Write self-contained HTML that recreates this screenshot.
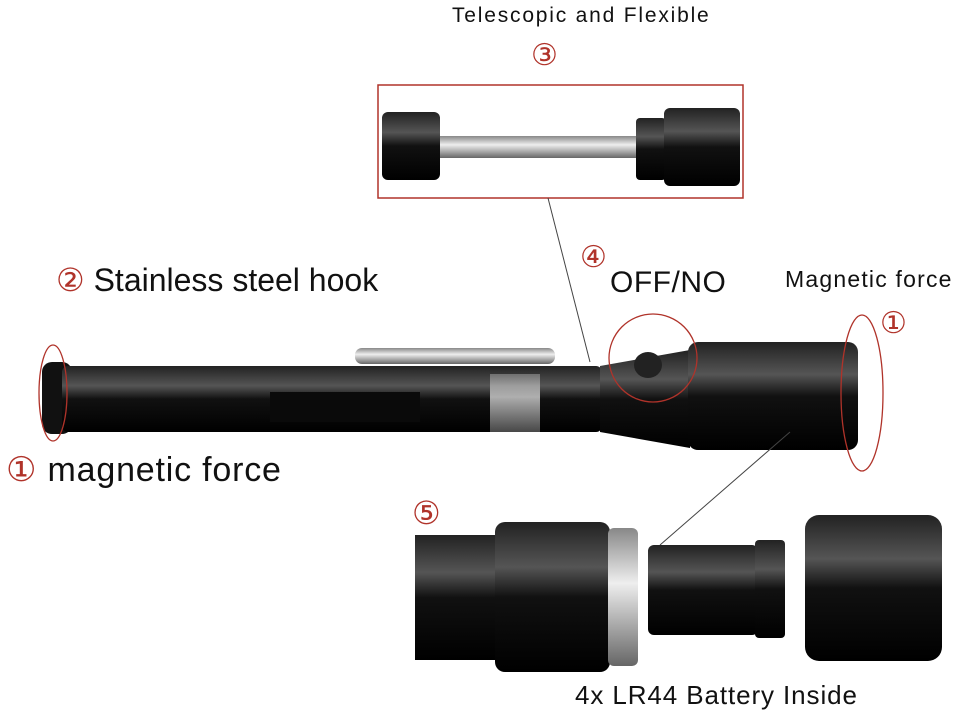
<!DOCTYPE html>
<html><head><meta charset="utf-8"><style>
body{margin:0;width:960px;height:724px;background:#fff;overflow:hidden;position:relative;font-family:"Liberation Sans",sans-serif}
.t{position:absolute;white-space:nowrap;color:#111}
.r{color:#b0332a}
</style></head><body>
<svg width="960" height="724" style="position:absolute;left:0;top:0">
<defs>
<linearGradient id="blk" x1="0" y1="0" x2="0" y2="1"><stop offset="0" stop-color="#222"/><stop offset="0.3" stop-color="#555"/><stop offset="0.5" stop-color="#111"/><stop offset="1" stop-color="#000"/></linearGradient>
<linearGradient id="sil" x1="0" y1="0" x2="0" y2="1"><stop offset="0" stop-color="#888"/><stop offset="0.4" stop-color="#eee"/><stop offset="1" stop-color="#666"/></linearGradient>
</defs>
<rect x="378" y="85" width="365" height="113" fill="#fff" stroke="#b0332a" stroke-width="1.5"/>
<rect x="382" y="112" width="58" height="68" rx="6" fill="url(#blk)"/>
<rect x="440" y="136" width="200" height="22" fill="url(#sil)"/>
<rect x="636" y="118" width="30" height="62" rx="4" fill="url(#blk)"/>
<rect x="664" y="108" width="76" height="78" rx="6" fill="url(#blk)"/>
<line x1="548" y1="198" x2="590" y2="362" stroke="#444" stroke-width="1"/>
<rect x="42" y="362" width="30" height="72" rx="10" fill="#111"/>
<rect x="62" y="366" width="540" height="66" rx="6" fill="url(#blk)"/>
<rect x="270" y="392" width="150" height="30" fill="#0a0a0a"/>
<rect x="490" y="374" width="50" height="58" fill="url(#sil)" opacity="0.7"/>
<rect x="355" y="348" width="200" height="16" rx="7" fill="url(#sil)"/>
<polygon points="600,366 690,350 690,448 600,432" fill="url(#blk)"/>
<rect x="688" y="342" width="170" height="108" rx="10" fill="url(#blk)"/>
<ellipse cx="648" cy="365" rx="14" ry="13" fill="#222"/>
<ellipse cx="53" cy="393" rx="14" ry="48" fill="none" stroke="#b0332a" stroke-width="1.3"/>
<ellipse cx="862" cy="393" rx="21" ry="78" fill="none" stroke="#b0332a" stroke-width="1.3"/>
<circle cx="653" cy="358" r="44" fill="none" stroke="#b0332a" stroke-width="1.3"/>
<line x1="790" y1="432" x2="660" y2="545" stroke="#444" stroke-width="1"/>
<rect x="415" y="535" width="90" height="125" fill="url(#blk)"/>
<rect x="495" y="522" width="115" height="150" rx="10" fill="url(#blk)"/>
<rect x="608" y="528" width="30" height="138" rx="6" fill="url(#sil)"/>
<rect x="648" y="545" width="110" height="90" rx="6" fill="url(#blk)"/>
<rect x="755" y="540" width="30" height="98" rx="4" fill="url(#blk)"/>
<rect x="805" y="515" width="137" height="146" rx="14" fill="url(#blk)"/>
</svg>
<div class="t" style="left:452px;top:4px;font-size:21px;letter-spacing:1.8px">Telescopic and Flexible</div>
<div class="t r" style="left:531px;top:38px;font-size:30px">③</div>
<div class="t" style="left:56px;top:261px;font-size:32px"><span class="r">②</span> Stainless steel hook</div>
<div class="t r" style="left:580px;top:240px;font-size:30px">④</div>
<div class="t" style="left:610px;top:266px;font-size:30px;letter-spacing:0.5px">OFF/NO</div>
<div class="t" style="left:785px;top:266px;font-size:23px;letter-spacing:1.2px">Magnetic force</div>
<div class="t r" style="left:880px;top:306px;font-size:30px">①</div>
<div class="t" style="left:6px;top:450px;font-size:34px;letter-spacing:0.8px"><span class="r">①</span> magnetic force</div>
<div class="t r" style="left:412px;top:494px;font-size:32px">⑤</div>
<div class="t" style="left:575px;top:680px;font-size:26px;letter-spacing:0.9px">4x LR44 Battery Inside</div>
</body></html>
